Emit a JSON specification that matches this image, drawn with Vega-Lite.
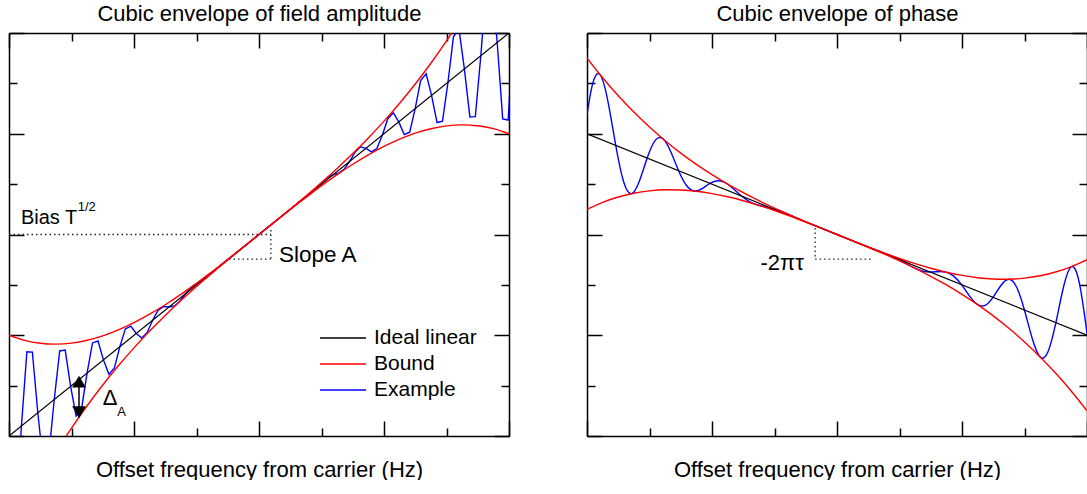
{
"$schema": "https://vega.github.io/schema/vega-lite/v6.json",
"background": "white",
"padding": {"left": 8, "top": 2, "right": 0, "bottom": 0},
"config": {"view": {"stroke": null}, "font": "Liberation Sans", "text": {"font": "Liberation Sans", "color": "black"}},
"datasets": {
"idealL": [{"x": 0, "y": 0}, {"x": 8, "y": 8}],
"idealR": [{"x": 0, "y": 6}, {"x": 8, "y": 2}],
"boundL": [
{"x":0,"up":2,"lo":-2},{"x":0.25,"up":1.898,"lo":-1.398},{"x":0.5,"up":1.84,"lo":-0.84},{"x":0.75,"up":1.823,"lo":-0.323},{"x":1,"up":1.844,"lo":0.156},{"x":1.25,"up":1.9,"lo":0.6},{"x":1.5,"up":1.988,"lo":1.012},{"x":1.75,"up":2.106,"lo":1.394},{"x":2,"up":2.25,"lo":1.75},{"x":2.25,"up":2.4175,"lo":2.0825},{"x":2.5,"up":2.6055,"lo":2.3945},{"x":2.75,"up":2.811,"lo":2.689},{"x":3,"up":3.031,"lo":2.969},{"x":3.25,"up":3.263,"lo":3.237},{"x":3.5,"up":3.504,"lo":3.496},{"x":3.75,"up":3.7505,"lo":3.7495},{"x":4,"up":4,"lo":4},{"x":4.25,"up":4.2505,"lo":4.2495},{"x":4.5,"up":4.504,"lo":4.496},{"x":4.75,"up":4.763,"lo":4.737},{"x":5,"up":5.031,"lo":4.969},{"x":5.25,"up":5.311,"lo":5.189},{"x":5.5,"up":5.6055,"lo":5.3945},{"x":5.75,"up":5.9175,"lo":5.5825},{"x":6,"up":6.25,"lo":5.75},{"x":6.25,"up":6.606,"lo":5.894},{"x":6.5,"up":6.988,"lo":6.012},{"x":6.75,"up":7.4,"lo":6.1},{"x":7,"up":7.844,"lo":6.156},{"x":7.25,"up":8.323,"lo":6.177},{"x":7.5,"up":8.84,"lo":6.16},{"x":7.75,"up":9.398,"lo":6.102},{"x":8,"up":10,"lo":6}
],
"boundR": [
{"x":0,"up":7.5,"lo":4.5},{"x":0.25,"up":7.111,"lo":4.639},{"x":0.5,"up":6.755,"lo":4.745},{"x":0.75,"up":6.43,"lo":4.82},{"x":1,"up":6.133,"lo":4.867},{"x":1.25,"up":5.862,"lo":4.888},{"x":1.5,"up":5.616,"lo":4.884},{"x":1.75,"up":5.392,"lo":4.858},{"x":2,"up":5.1875,"lo":4.8125},{"x":2.25,"up":5.0006,"lo":4.7494},{"x":2.5,"up":4.8291,"lo":4.6709},{"x":2.75,"up":4.6708,"lo":4.5792},{"x":3,"up":4.5234,"lo":4.4766},{"x":3.25,"up":4.3849,"lo":4.3651},{"x":3.5,"up":4.2529,"lo":4.2471},{"x":3.75,"up":4.1254,"lo":4.1246},{"x":4,"up":4,"lo":4},{"x":4.25,"up":3.8754,"lo":3.8746},{"x":4.5,"up":3.7529,"lo":3.7471},{"x":4.75,"up":3.6349,"lo":3.6151},{"x":5,"up":3.5234,"lo":3.4766},{"x":5.25,"up":3.4208,"lo":3.3292},{"x":5.5,"up":3.3291,"lo":3.1709},{"x":5.75,"up":3.2506,"lo":2.9994},{"x":6,"up":3.1875,"lo":2.8125},{"x":6.25,"up":3.142,"lo":2.608},{"x":6.5,"up":3.116,"lo":2.384},{"x":6.75,"up":3.112,"lo":2.138},{"x":7,"up":3.133,"lo":1.867},{"x":7.25,"up":3.18,"lo":1.57},{"x":7.5,"up":3.255,"lo":1.245},{"x":7.75,"up":3.361,"lo":0.889},{"x":8,"up":3.5,"lo":0.5}
],
"exL": [
{"x":-0.064,"y":-0.064},{"x":0.024,"y":-1.677},{"x":0.111,"y":-1.481},{"x":0.199,"y":0.199},{"x":0.286,"y":1.672},{"x":0.374,"y":1.664},{"x":0.461,"y":0.461},{"x":0.549,"y":-0.564},{"x":0.636,"y":-0.394},{"x":0.724,"y":0.724},{"x":0.811,"y":1.688},{"x":0.899,"y":1.706},{"x":0.986,"y":0.986},{"x":1.074,"y":0.396},{"x":1.161,"y":0.542},{"x":1.249,"y":1.249},{"x":1.336,"y":1.848},{"x":1.424,"y":1.886},{"x":1.511,"y":1.511},{"x":1.599,"y":1.224},{"x":1.686,"y":1.351},{"x":1.774,"y":1.774},{"x":1.861,"y":2.126},{"x":1.949,"y":2.182},{"x":2.036,"y":2.036},{"x":2.124,"y":1.945},{"x":2.211,"y":2.056},{"x":2.299,"y":2.299},{"x":2.386,"y":2.5},{"x":2.474,"y":2.57},{"x":2.561,"y":2.561},{"x":2.649,"y":2.582},{"x":2.736,"y":2.682},{"x":2.824,"y":2.824},{"x":2.911,"y":2.946},{"x":2.999,"y":3.026},{"x":3.086,"y":3.086},{"x":3.174,"y":3.159},{"x":3.261,"y":3.25},{"x":3.349,"y":3.349},{"x":3.436,"y":3.441},{"x":3.524,"y":3.527},{"x":4.661,"y":4.661},{"x":4.749,"y":4.737},{"x":4.836,"y":4.82},{"x":4.924,"y":4.924},{"x":5.011,"y":5.039},{"x":5.099,"y":5.135},{"x":5.186,"y":5.186},{"x":5.274,"y":5.218},{"x":5.361,"y":5.293},{"x":5.449,"y":5.449},{"x":5.536,"y":5.634},{"x":5.624,"y":5.74},{"x":5.711,"y":5.711},{"x":5.799,"y":5.641},{"x":5.886,"y":5.705},{"x":5.974,"y":5.974},{"x":6.061,"y":6.298},{"x":6.149,"y":6.417},{"x":6.236,"y":6.236},{"x":6.324,"y":5.984},{"x":6.411,"y":6.032},{"x":6.499,"y":6.499},{"x":6.586,"y":7.054},{"x":6.674,"y":7.191},{"x":6.761,"y":6.761},{"x":6.849,"y":6.223},{"x":6.936,"y":6.251},{"x":7.024,"y":7.024},{"x":7.111,"y":7.926},{"x":7.199,"y":8.084},{"x":7.286,"y":7.286},{"x":7.374,"y":6.334},{"x":7.461,"y":6.339},{"x":7.549,"y":7.549},{"x":7.636,"y":8.937},{"x":7.724,"y":9.121},{"x":7.811,"y":7.811},{"x":7.899,"y":6.295},{"x":7.986,"y":6.272},{"x":8.074,"y":8.074}
],
"exR": [
{"x":-0.043,"y":6.022},{"x":0.083,"y":6.955},{"x":0.209,"y":7.173},{"x":0.334,"y":6.649},{"x":0.46,"y":5.77},{"x":0.586,"y":5.048},{"x":0.712,"y":4.811},{"x":0.837,"y":5.057},{"x":0.963,"y":5.519},{"x":1.089,"y":5.865},{"x":1.215,"y":5.899},{"x":1.34,"y":5.642},{"x":1.466,"y":5.267},{"x":1.592,"y":4.973},{"x":1.718,"y":4.863},{"x":1.843,"y":4.912},{"x":1.969,"y":5.016},{"x":2.095,"y":5.067},{"x":2.221,"y":5.022},{"x":2.346,"y":4.902},{"x":2.472,"y":4.764},{"x":2.598,"y":4.655},{"x":2.724,"y":4.59},{"x":2.849,"y":4.55},{"x":2.975,"y":4.513},{"x":3.101,"y":4.462},{"x":3.227,"y":4.398},{"x":3.352,"y":4.328},{"x":3.478,"y":4.261},{"x":3.604,"y":4.198},{"x":3.73,"y":4.135},{"x":3.855,"y":4.072},{"x":3.981,"y":4.01},{"x":4.107,"y":3.947},{"x":4.233,"y":3.884},{"x":4.358,"y":3.821},{"x":4.484,"y":3.758},{"x":4.61,"y":3.699},{"x":4.736,"y":3.642},{"x":4.861,"y":3.58},{"x":4.987,"y":3.507},{"x":5.113,"y":3.421},{"x":5.239,"y":3.336},{"x":5.364,"y":3.276},{"x":5.49,"y":3.255},{"x":5.616,"y":3.262},{"x":5.742,"y":3.253},{"x":5.867,"y":3.174},{"x":5.993,"y":3.004},{"x":6.119,"y":2.783},{"x":6.245,"y":2.613},{"x":6.37,"y":2.594},{"x":6.496,"y":2.752},{"x":6.622,"y":2.988},{"x":6.748,"y":3.112},{"x":6.873,"y":2.957},{"x":6.999,"y":2.501},{"x":7.125,"y":1.932},{"x":7.251,"y":1.57},{"x":7.376,"y":1.674},{"x":7.502,"y":2.249},{"x":7.628,"y":2.977},{"x":7.754,"y":3.363},{"x":7.879,"y":3.028},{"x":8.005,"y":1.998}
],
"dotsL": [{"x":0,"x2":4.19,"y":4.0,"y2":4.0},{"x":4.19,"x2":4.19,"y":4.09,"y2":3.51},{"x":3.52,"x2":4.19,"y":3.51,"y2":3.51}],
"dotsR": [{"x":3.65,"x2":3.65,"y":4.13,"y2":3.51},{"x":3.65,"x2":4.54,"y":3.51,"y2":3.51}],
"textBias": [{"x":0.19,"y":4.33,"t":"Bias T"}],
"textSlope": [{"x":4.32,"y":3.59,"t":"Slope A"}],
"textDelta": [{"x":1.5,"y":0.76,"t":"Δ"}],
"textSmallL": [{"x":1.1,"y":4.55,"t":"1/2"},{"x":1.73,"y":0.48,"t":"A"}],
"textR": [{"x":3.47,"y":3.43,"t":"-2πτ"}],
"arrowL": [{"x":1.12,"top":1.08,"bot":0.47}]
},
"spacing": 76,
"resolve": {"scale": {"x": "independent", "y": "independent", "color": "independent"}, "legend": {"color": "independent"}},
"hconcat": [
{
"width": 500, "height": 403,
"resolve": {"axis": {"x": "independent", "y": "independent"}},
"layer": [
{"data": {"name": "dotsL"}, "mark": {"type": "rule", "strokeDash": [1.5, 3], "color": "#222", "strokeWidth": 1.3},
 "encoding": {"x": {"field": "x", "type": "quantitative", "scale": {"domain": [0, 8], "nice": false, "zero": false}, "axis": null},
  "x2": {"field": "x2"},
  "y": {"field": "y", "type": "quantitative", "scale": {"domain": [0, 8], "nice": false, "zero": false}, "axis": null},
  "y2": {"field": "y2"}}},
{"data": {"name": "exL"}, "mark": {"type": "line", "clip": true, "strokeWidth": 1.4},
 "encoding": {
  "x": {"field": "x", "type": "quantitative", "scale": {"domain": [0, 8], "nice": false, "zero": false},
   "axis": {"orient": "bottom", "values": [0,1,2,3,4,5,6,7,8], "labels": false, "grid": false, "domainColor": "black", "domainWidth": 1.5, "tickColor": "black", "tickWidth": 1.5, "tickSize": {"condition": {"test": "datum.value % 2 === 0", "value": -15}, "value": -8}, "title": "Offset frequency from carrier (Hz)", "titleFont": "Liberation Sans", "titleFontSize": 22, "titleFontWeight": "normal", "titleColor": "black", "titlePadding": 23, "minExtent": 0, "maxExtent": 0}},
  "y": {"field": "y", "type": "quantitative", "scale": {"domain": [0, 8], "nice": false, "zero": false},
   "axis": {"orient": "left", "values": [0,1,2,3,4,5,6,7,8], "labels": false, "grid": false, "domainColor": "black", "domainWidth": 1.5, "tickColor": "black", "tickWidth": 1.5, "tickSize": {"condition": {"test": "datum.value % 2 === 0", "value": -15}, "value": -8}, "title": null, "minExtent": 0, "maxExtent": 0}},
  "color": {"datum": "Example", "type": "nominal", "scale": {"domain": ["Ideal linear", "Bound", "Example"], "range": ["#000000", "#ff0000", "#0000ff"]},
   "legend": {"orient": "none", "legendX": 310, "legendY": 292, "title": null, "symbolType": "stroke", "symbolSize": 2116, "symbolStrokeWidth": 1.5, "labelFont": "Liberation Sans", "labelFontSize": 21, "labelColor": "black", "labelOffset": 7, "clipHeight": 26, "rowPadding": 0, "padding": 0}}}},
{"data": {"name": "idealL"}, "mark": {"type": "line", "clip": true, "strokeWidth": 1.2},
 "encoding": {
  "x": {"field": "x", "type": "quantitative", "scale": {"domain": [0, 8], "nice": false, "zero": false},
   "axis": {"orient": "top", "values": [0,1,2,3,4,5,6,7,8], "labels": false, "grid": false, "domainColor": "black", "domainWidth": 1.5, "tickColor": "black", "tickWidth": 1.5, "tickSize": {"condition": {"test": "datum.value % 2 === 0", "value": -15}, "value": -8}, "title": "Cubic envelope of field amplitude", "titleFont": "Liberation Sans", "titleFontSize": 22, "titleFontWeight": "normal", "titleColor": "black", "titleBaseline": "alphabetic", "titlePadding": 13, "minExtent": 0, "maxExtent": 0}},
  "y": {"field": "y", "type": "quantitative", "scale": {"domain": [0, 8], "nice": false, "zero": false},
   "axis": {"orient": "right", "values": [0,1,2,3,4,5,6,7,8], "labels": false, "grid": false, "domainColor": "black", "domainWidth": 1.5, "tickColor": "black", "tickWidth": 1.5, "tickSize": {"condition": {"test": "datum.value % 2 === 0", "value": -15}, "value": -8}, "title": null, "minExtent": 0, "maxExtent": 0}},
  "color": {"datum": "Ideal linear", "type": "nominal"}}},
{"data": {"name": "boundL"}, "mark": {"type": "line", "clip": true, "strokeWidth": 1.4, "interpolate": "natural"},
 "encoding": {"x": {"field": "x", "type": "quantitative", "axis": null}, "y": {"field": "up", "type": "quantitative", "axis": null}, "color": {"datum": "Bound", "type": "nominal"}}},
{"data": {"name": "boundL"}, "mark": {"type": "line", "clip": true, "strokeWidth": 1.4, "interpolate": "natural"},
 "encoding": {"x": {"field": "x", "type": "quantitative", "axis": null}, "y": {"field": "lo", "type": "quantitative", "axis": null}, "color": {"datum": "Bound", "type": "nominal"}}},
{"data": {"name": "arrowL"}, "mark": {"type": "rule", "color": "black", "strokeWidth": 1.5},
 "encoding": {"x": {"field": "x", "type": "quantitative", "axis": null}, "y": {"field": "top", "type": "quantitative", "axis": null}, "y2": {"field": "bot"}}},
{"data": {"name": "arrowL"}, "mark": {"type": "point", "shape": "triangle-up", "filled": true, "color": "black", "size": 190, "opacity": 1},
 "encoding": {"x": {"field": "x", "type": "quantitative", "axis": null}, "y": {"field": "top", "type": "quantitative", "axis": null}}},
{"data": {"name": "arrowL"}, "mark": {"type": "point", "shape": "triangle-down", "filled": true, "color": "black", "size": 190, "opacity": 1},
 "encoding": {"x": {"field": "x", "type": "quantitative", "axis": null}, "y": {"field": "bot", "type": "quantitative", "axis": null}}},
{"data": {"name": "textBias"}, "mark": {"type": "text", "align": "left", "baseline": "middle", "fontSize": 20, "font": "Liberation Sans", "color": "black"},
 "encoding": {"x": {"field": "x", "type": "quantitative", "axis": null}, "y": {"field": "y", "type": "quantitative", "axis": null}, "text": {"field": "t"}}},
{"data": {"name": "textSlope"}, "mark": {"type": "text", "align": "left", "baseline": "middle", "fontSize": 22.5, "font": "Liberation Sans", "color": "black"},
 "encoding": {"x": {"field": "x", "type": "quantitative", "axis": null}, "y": {"field": "y", "type": "quantitative", "axis": null}, "text": {"field": "t"}}},
{"data": {"name": "textDelta"}, "mark": {"type": "text", "align": "left", "baseline": "middle", "fontSize": 22, "font": "Liberation Sans", "color": "black"},
 "encoding": {"x": {"field": "x", "type": "quantitative", "axis": null}, "y": {"field": "y", "type": "quantitative", "axis": null}, "text": {"field": "t"}}},
{"data": {"name": "textSmallL"}, "mark": {"type": "text", "align": "left", "baseline": "middle", "fontSize": 13, "font": "Liberation Sans", "color": "black"},
 "encoding": {"x": {"field": "x", "type": "quantitative", "axis": null}, "y": {"field": "y", "type": "quantitative", "axis": null}, "text": {"field": "t"}}}
]
},
{
"width": 500, "height": 403,
"resolve": {"axis": {"x": "independent", "y": "independent"}},
"layer": [
{"data": {"name": "dotsR"}, "mark": {"type": "rule", "strokeDash": [1.5, 3], "color": "#222", "strokeWidth": 1.3},
 "encoding": {"x": {"field": "x", "type": "quantitative", "scale": {"domain": [0, 8], "nice": false, "zero": false}, "axis": null},
  "x2": {"field": "x2"},
  "y": {"field": "y", "type": "quantitative", "scale": {"domain": [0, 8], "nice": false, "zero": false}, "axis": null},
  "y2": {"field": "y2"}}},
{"data": {"name": "exR"}, "mark": {"type": "line", "clip": true, "strokeWidth": 1.4, "interpolate": "natural"},
 "encoding": {
  "x": {"field": "x", "type": "quantitative", "scale": {"domain": [0, 8], "nice": false, "zero": false},
   "axis": {"orient": "bottom", "values": [0,1,2,3,4,5,6,7,8], "labels": false, "grid": false, "domainColor": "black", "domainWidth": 1.5, "tickColor": "black", "tickWidth": 1.5, "tickSize": {"condition": {"test": "datum.value % 2 === 0", "value": -15}, "value": -8}, "title": "Offset frequency from carrier (Hz)", "titleFont": "Liberation Sans", "titleFontSize": 22, "titleFontWeight": "normal", "titleColor": "black", "titlePadding": 23, "minExtent": 0, "maxExtent": 0}},
  "y": {"field": "y", "type": "quantitative", "scale": {"domain": [0, 8], "nice": false, "zero": false},
   "axis": {"orient": "left", "values": [0,1,2,3,4,5,6,7,8], "labels": false, "grid": false, "domainColor": "black", "domainWidth": 1.5, "tickColor": "black", "tickWidth": 1.5, "tickSize": {"condition": {"test": "datum.value % 2 === 0", "value": -15}, "value": -8}, "title": null, "minExtent": 0, "maxExtent": 0}},
  "color": {"datum": "Example", "type": "nominal", "scale": {"domain": ["Ideal linear", "Bound", "Example"], "range": ["#000000", "#ff0000", "#0000ff"]}, "legend": null}}},
{"data": {"name": "idealR"}, "mark": {"type": "line", "clip": true, "strokeWidth": 1.2},
 "encoding": {
  "x": {"field": "x", "type": "quantitative", "scale": {"domain": [0, 8], "nice": false, "zero": false},
   "axis": {"orient": "top", "values": [0,1,2,3,4,5,6,7,8], "labels": false, "grid": false, "domainColor": "black", "domainWidth": 1.5, "tickColor": "black", "tickWidth": 1.5, "tickSize": {"condition": {"test": "datum.value % 2 === 0", "value": -15}, "value": -8}, "title": "Cubic envelope of phase", "titleFont": "Liberation Sans", "titleFontSize": 22, "titleFontWeight": "normal", "titleColor": "black", "titleBaseline": "alphabetic", "titlePadding": 13, "minExtent": 0, "maxExtent": 0}},
  "y": {"field": "y", "type": "quantitative", "scale": {"domain": [0, 8], "nice": false, "zero": false},
   "axis": {"orient": "right", "values": [0,1,2,3,4,5,6,7,8], "labels": false, "grid": false, "domainColor": "black", "domainWidth": 1.5, "tickColor": "black", "tickWidth": 1.5, "tickSize": {"condition": {"test": "datum.value % 2 === 0", "value": -15}, "value": -8}, "title": null, "minExtent": 0, "maxExtent": 0}},
  "color": {"datum": "Ideal linear", "type": "nominal"}}},
{"data": {"name": "boundR"}, "mark": {"type": "line", "clip": true, "strokeWidth": 1.4, "interpolate": "natural"},
 "encoding": {"x": {"field": "x", "type": "quantitative", "axis": null}, "y": {"field": "up", "type": "quantitative", "axis": null}, "color": {"datum": "Bound", "type": "nominal"}}},
{"data": {"name": "boundR"}, "mark": {"type": "line", "clip": true, "strokeWidth": 1.4, "interpolate": "natural"},
 "encoding": {"x": {"field": "x", "type": "quantitative", "axis": null}, "y": {"field": "lo", "type": "quantitative", "axis": null}, "color": {"datum": "Bound", "type": "nominal"}}},
{"data": {"name": "textR"}, "mark": {"type": "text", "align": "right", "baseline": "middle", "fontSize": 22, "font": "Liberation Sans", "color": "black"},
 "encoding": {"x": {"field": "x", "type": "quantitative", "axis": null}, "y": {"field": "y", "type": "quantitative", "axis": null}, "text": {"field": "t"}}}
]
}
]
}
